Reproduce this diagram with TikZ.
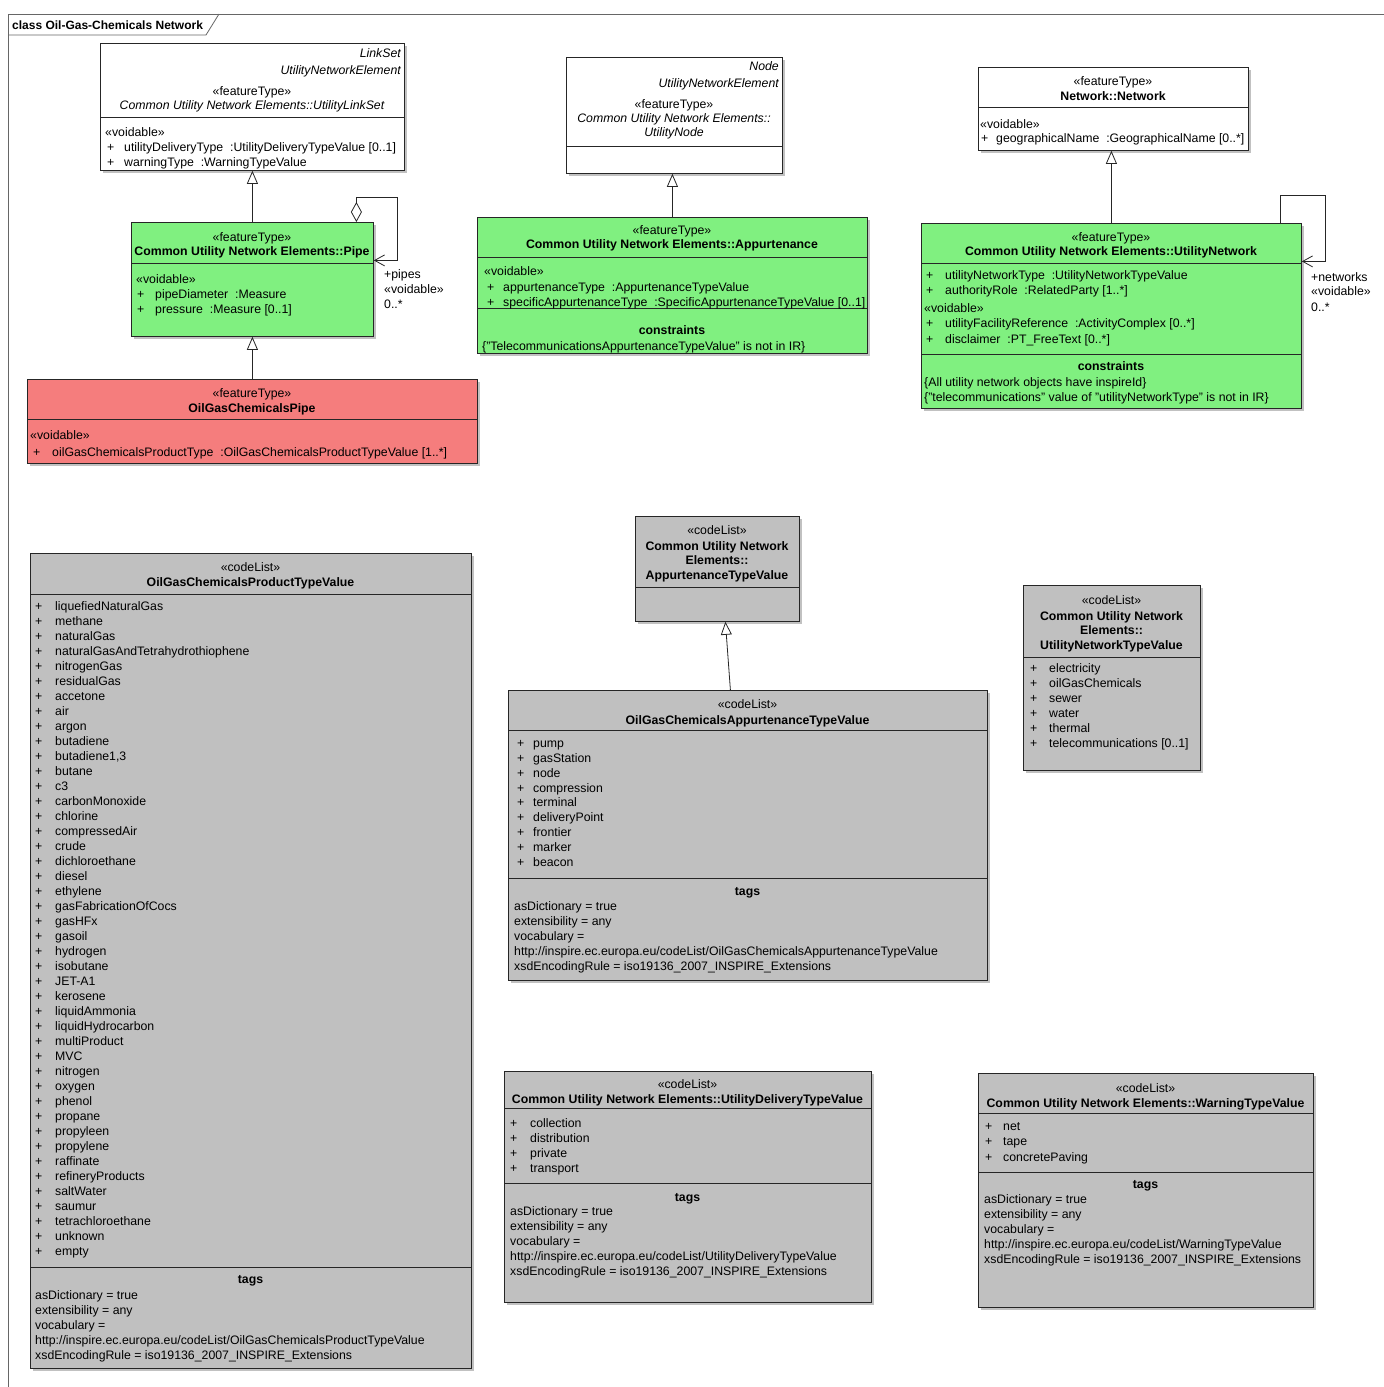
\documentclass[tikz,border=0pt]{standalone}
\usepackage{fontspec}
\setmainfont{Liberation Sans}
\usetikzlibrary{arrows.meta,shadows,calc}
\definecolor{umlgreen}{RGB}{128,240,128}
\definecolor{umlred}{RGB}{245,125,125}
\definecolor{umlgray}{RGB}{192,192,192}
\newcommand\fs{\fontsize{12.3}{14}\selectfont}
\newcounter{tn}
\newcommand\T[4][]{\stepcounter{tn}\node[lbl,#1] (t\thetn) at (#2,#3) {#4};}
\newcommand\Items[5]{\foreach \s [count=\i from 0] in {#5} {\T[anchor=west]{#1}{#3+#4*\i}{+}\T[anchor=west]{#2}{#3+#4*\i}{\s}}}
\newcommand\Lines[4]{\foreach \s [count=\i from 0] in {#4} {\T[anchor=west]{#1}{#2+#3*\i}{\s}}}
\newcommand\ClassBox[6]{\node[cls, fill=#2, minimum width={#5-#3}, minimum height={#6-#4}] (#1) at (#3,#4) {};}
\newcommand\Div[2]{\draw[divl] ($(#1.north west)+(0,#2)$) -- ($(#1.north east)+(0,#2)$);}
\newcommand\Tags[3]{\Lines{#1}{#2}{15}{asDictionary = true, extensibility = any, vocabulary =, http://inspire.ec.europa.eu/codeList/#3, xsdEncodingRule = iso19136\_2007\_INSPIRE\_Extensions}}
\begin{document}
\begin{tikzpicture}[x=1pt,y=-1pt,
  lbl/.style={inner sep=0pt, text height=8.6pt, text depth=2.4pt, font=\fs, yshift=-1.2pt},
  bld/.style={font=\fs\bfseries},
  itl/.style={font=\fs\itshape},
  cls/.style={draw=black!85, line width=0.8pt, anchor=north west, inner sep=0pt,
    drop shadow={shadow xshift=2.5pt, shadow yshift=-2.5pt, fill=black!40, opacity=0.6}},
  divl/.style={draw=black!85, line width=0.8pt},
  conn/.style={draw=black!85, line width=0.8pt},
  gen/.style={conn, -{Triangle[fill=white, length=13pt, width=11pt]}},
  assoc/.style={conn, -{Straight Barb[length=10pt, width=11pt]}},
  aggr/.style={conn, {Diamond[fill=white, length=20pt, width=11pt]}-{Straight Barb[length=10pt, width=11pt]}}
]
\fill[white] (0,0) rectangle (1384,1387);
\useasboundingbox (0,0) rectangle (1384,1387);

% frame
\draw[draw=black!60, line width=0.8pt] (8,1387) -- (8,14) -- (1384,14);
\draw[draw=black!60, line width=0.8pt] (8,35) -- (206,35) -- (219,14);
\T[anchor=west, font=\fontsize{12}{13}\selectfont\bfseries]{12}{25}{class Oil-Gas-Chemicals Network}

% UtilityLinkSet
\ClassBox{link}{white}{100}{43}{404}{170}
\Div{link}{74}
\T[anchor=east,itl]{401}{53}{LinkSet}
\T[anchor=east,itl]{401}{70}{UtilityNetworkElement}
\T{252}{91}{«featureType»}
\T[itl]{252}{105}{Common Utility Network Elements::UtilityLinkSet}
\T[anchor=west]{105}{132}{«voidable»}
\Items{107}{124}{147}{15}{utilityDeliveryType~~:UtilityDeliveryTypeValue [0..1], warningType~~:WarningTypeValue}

% Pipe
\ClassBox{pipe}{umlgreen}{131}{222}{373}{336}
\Div{pipe}{41}
\T{252}{237}{«featureType»}
\T[bld]{252}{251}{Common Utility Network Elements::Pipe}
\T[anchor=west]{136}{279}{«voidable»}
\Items{137}{155}{294}{15}{pipeDiameter~~:Measure, pressure~~:Measure [0..1]}

% OilGasChemicalsPipe
\ClassBox{red}{umlred}{27}{379}{477}{463}
\Div{red}{40}
\T{252}{393}{«featureType»}
\T[bld]{252}{408}{OilGasChemicalsPipe}
\T[anchor=west]{30}{435}{«voidable»}
\Items{33}{52}{452}{15}{oilGasChemicalsProductType~~:OilGasChemicalsProductTypeValue [1..*]}

% UtilityNode
\ClassBox{unode}{white}{566}{57}{782}{173}
\Div{unode}{89}
\T[anchor=east,itl]{779}{66}{Node}
\T[anchor=east,itl]{779}{83}{UtilityNetworkElement}
\T{674}{104}{«featureType»}
\T[itl]{674}{118}{Common Utility Network Elements::}
\T[itl]{674}{132}{UtilityNode}

% Appurtenance
\ClassBox{app}{umlgreen}{477}{217}{867}{353}
\Div{app}{40}
\Div{app}{91}
\T{672}{230}{«featureType»}
\T[bld]{672}{244}{Common Utility Network Elements::Appurtenance}
\T[anchor=west]{484}{271}{«voidable»}
\Items{487}{503}{287}{15}{appurtenanceType~~:AppurtenanceTypeValue, specificAppurtenanceType~~:SpecificAppurtenanceTypeValue [0..1]}
\T[bld]{672}{330}{constraints}
\T[anchor=west]{482}{346}{\{"TelecommunicationsAppurtenanceTypeValue" is not in IR\}}

% Network::Network
\ClassBox{net}{white}{978}{67}{1248}{150}
\Div{net}{40}
\T{1113}{81}{«featureType»}
\T[bld]{1113}{96}{Network::Network}
\T[anchor=west]{980}{124}{«voidable»}
\Items{981}{996}{138}{15}{geographicalName~~:GeographicalName [0..*]}

% UtilityNetwork
\ClassBox{unet}{umlgreen}{921}{223}{1301}{408}
\Div{unet}{40}
\Div{unet}{131}
\T{1111}{237}{«featureType»}
\T[bld]{1111}{251}{Common Utility Network Elements::UtilityNetwork}
\Items{926}{945}{275}{15}{utilityNetworkType~~:UtilityNetworkTypeValue, authorityRole~~:RelatedParty [1..*]}
\T[anchor=west]{924}{308}{«voidable»}
\Items{926}{945}{323}{16}{utilityFacilityReference~~:ActivityComplex [0..*], disclaimer~~:PT\_FreeText [0..*]}
\T[bld]{1111}{366}{constraints}
\T[anchor=west]{924}{382}{\{All utility network objects have inspireId\}}
\T[anchor=west]{924}{397}{\{"telecommunications" value of "utilityNetworkType" is not in IR\}}

% OilGasChemicalsProductTypeValue
\ClassBox{prod}{umlgray}{30}{553}{471}{1368}
\Div{prod}{41}
\Div{prod}{714}
\T{250.5}{567}{«codeList»}
\T[bld]{250.5}{582}{OilGasChemicalsProductTypeValue}
\Items{35}{55}{606}{15}{liquefiedNaturalGas, methane, naturalGas, naturalGasAndTetrahydrothiophene, nitrogenGas, residualGas, accetone, air, argon, butadiene, {butadiene1,3}, butane, c3, carbonMonoxide, chlorine, compressedAir, crude, dichloroethane, diesel, ethylene, gasFabricationOfCocs, gasHFx, gasoil, hydrogen, isobutane, JET-A1, kerosene, liquidAmmonia, liquidHydrocarbon, multiProduct, MVC, nitrogen, oxygen, phenol, propane, propyleen, propylene, raffinate, refineryProducts, saltWater, saumur, tetrachloroethane, unknown, empty}
\T[bld]{250.5}{1279}{tags}
\Tags{35}{1295}{OilGasChemicalsProductTypeValue}

% AppurtenanceTypeValue
\ClassBox{atv}{umlgray}{635}{516}{799}{621}
\Div{atv}{71}
\T{717}{530}{«codeList»}
\T[bld]{717}{546}{Common Utility Network}
\T[bld]{717}{560}{Elements::}
\T[bld]{717}{575}{AppurtenanceTypeValue}

% OilGasChemicalsAppurtenanceTypeValue
\ClassBox{oapp}{umlgray}{508}{690}{987}{980}
\Div{oapp}{40}
\Div{oapp}{188}
\T{747.5}{704}{«codeList»}
\T[bld]{747.5}{720}{OilGasChemicalsAppurtenanceTypeValue}
\Items{517}{533}{743}{14.9}{pump, gasStation, node, compression, terminal, deliveryPoint, frontier, marker, beacon}
\T[bld]{747.5}{891}{tags}
\Tags{514}{906}{OilGasChemicalsAppurtenanceTypeValue}

% UtilityNetworkTypeValue
\ClassBox{untv}{umlgray}{1023}{585}{1200}{770}
\Div{untv}{72}
\T{1111.5}{600}{«codeList»}
\T[bld]{1111.5}{616}{Common Utility Network}
\T[bld]{1111.5}{630}{Elements::}
\T[bld]{1111.5}{645}{UtilityNetworkTypeValue}
\Items{1030}{1049}{668}{15.1}{electricity, oilGasChemicals, sewer, water, thermal, {telecommunications [0..1]}}

% UtilityDeliveryTypeValue
\ClassBox{udt}{umlgray}{504}{1071}{871}{1302}
\Div{udt}{37}
\Div{udt}{112}
\T{687.5}{1084}{«codeList»}
\T[bld]{687.5}{1099}{Common Utility Network Elements::UtilityDeliveryTypeValue}
\Items{510}{530}{1123}{15}{collection, distribution, private, transport}
\T[bld]{687.5}{1197}{tags}
\Tags{510}{1211}{UtilityDeliveryTypeValue}

% WarningTypeValue
\ClassBox{wtv}{umlgray}{978}{1073}{1313}{1307}
\Div{wtv}{40}
\Div{wtv}{99}
\T{1145.5}{1088}{«codeList»}
\T[bld]{1145.5}{1103}{Common Utility Network Elements::WarningTypeValue}
\Items{985}{1003}{1126}{15.5}{net, tape, concretePaving}
\T[bld]{1145.5}{1184}{tags}
\Tags{984}{1199}{WarningTypeValue}

% generalizations
\draw[gen] (red.north) -- (pipe.south);
\draw[gen] (pipe.north) -- (link.south);
\draw[gen] (app.north) -- (app.north |- unode.south);
\draw[gen] (unet.north) -- (unet.north |- net.south);
\draw[gen] ([xshift=-17.5pt]oapp.north) -- ([xshift=8pt]atv.south);

% self associations
\draw[aggr] ([xshift=104pt]pipe.north) -- ++(0,-25) -- ++(41,0) |- ([yshift=19pt]pipe.east);
\T[anchor=west]{384}{274}{+pipes}
\T[anchor=west]{384}{289}{«voidable»}
\T[anchor=west]{384}{304}{0..*}
\draw[assoc] ([xshift=169pt]unet.north) -- ++(0,-28) -- ++(45,0) |- ([yshift=54.5pt]unet.east);
\T[anchor=west]{1311}{277}{+networks}
\T[anchor=west]{1311}{291}{«voidable»}
\T[anchor=west]{1311}{307}{0..*}
\end{tikzpicture}
\end{document}
